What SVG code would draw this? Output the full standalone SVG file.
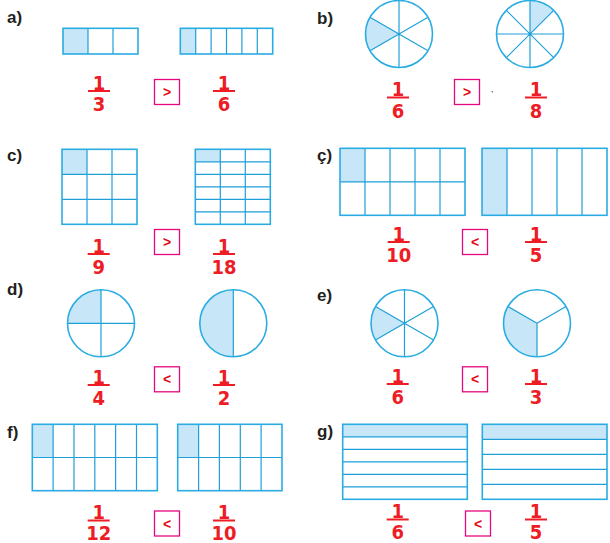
<svg xmlns="http://www.w3.org/2000/svg" width="610" height="543" viewBox="0 0 610 543">
<style>
.bg{fill:#fff}
.sh{fill:#c7e7f8}
.fr{fill:none;stroke:#2aace2;stroke-width:1.6}
.in{stroke:#1e9fd8;stroke-width:1.2;fill:none}
.lbl{font-family:"Liberation Sans",Arial,sans-serif;font-weight:bold;font-size:17px;fill:#231f20}
.num{font-family:"Liberation Sans Narrow","DejaVu Sans Condensed","Liberation Sans",sans-serif;font-weight:bold;font-size:20px;fill:#ee1c25;text-anchor:middle}
.bar{stroke:#ee1c25;stroke-width:2}
.box{fill:#fff;stroke:#e5087e;stroke-width:1.3}
.sym{font-family:"Liberation Sans",Arial,sans-serif;font-weight:bold;font-size:14px;fill:#e30613;text-anchor:middle}
</style>

<!-- a -->
<g id="panel-a">
<text class="lbl" x="7" y="23">a)</text>
<g id="a-left">
<rect class="bg" x="63" y="28.3" width="75" height="25.7"/>
<rect class="sh" x="63" y="28.3" width="25" height="25.7"/>
<path class="in" d="M88,28.3V54M113,28.3V54"/>
<rect class="fr" x="63" y="28.3" width="75" height="25.7"/>
</g>
<g id="a-right">
<rect class="bg" x="180.3" y="28.3" width="92.4" height="25.7"/>
<rect class="sh" x="180.3" y="28.3" width="15.4" height="25.7"/>
<path class="in" d="M195.7,28.3V54M211.1,28.3V54M226.5,28.3V54M241.9,28.3V54M257.3,28.3V54"/>
<rect class="fr" x="180.3" y="28.3" width="92.4" height="25.7"/>
</g>
<g id="a-frac1"><text class="num" x="99" y="89.5">1</text><line class="bar" x1="88" y1="91" x2="110" y2="91"/><text class="num" x="99" y="111">3</text></g>
<g id="a-cmp"><rect class="box" x="154.5" y="79.5" width="25" height="25"/><text class="sym" x="167" y="97">&gt;</text></g>
<g id="a-frac2"><text class="num" x="224" y="89.5">1</text><line class="bar" x1="213" y1="91" x2="235" y2="91"/><text class="num" x="224" y="111">6</text></g>
</g>

<!-- b -->
<g id="panel-b">
<text class="lbl" x="317" y="23.5">b)</text>
<g id="b-left">
<circle class="bg" cx="399" cy="34" r="33.5"/>
<path class="sh" d="M399,34L370,17.25A33.5,33.5 0 0 0 370,50.75Z"/>
<path class="in" d="M399,0.5V67.5M370,17.25L428,50.75M370,50.75L428,17.25"/>
<circle class="fr" cx="399" cy="34" r="33.5"/>
</g>
<g id="b-right">
<circle class="bg" cx="530" cy="34" r="33.5"/>
<path class="sh" d="M530,34L530,0.5A33.5,33.5 0 0 1 553.7,10.3Z"/>
<path class="in" d="M530,0.5V67.5M496.5,34H563.5M506.3,10.3L553.7,57.7M506.3,57.7L553.7,10.3"/>
<circle class="fr" cx="530" cy="34" r="33.5"/>
</g>
<g id="b-frac1"><text class="num" x="398" y="96">1</text><line class="bar" x1="387" y1="97.5" x2="409" y2="97.5"/><text class="num" x="398" y="117.5">6</text></g>
<g id="b-cmp"><rect class="box" x="454.5" y="79.5" width="25" height="25"/><text class="sym" x="467" y="97">&gt;</text></g>
<circle cx="492.3" cy="91.7" r="0.7" fill="#555"/>
<g id="b-frac2"><text class="num" x="536" y="96">1</text><line class="bar" x1="525" y1="97.5" x2="547" y2="97.5"/><text class="num" x="536" y="117.5">8</text></g>
</g>

<!-- c -->
<g id="panel-c">
<text class="lbl" x="7" y="161">c)</text>
<g id="c-left">
<rect class="bg" x="62" y="149.3" width="75" height="75"/>
<rect class="sh" x="62" y="149.3" width="25" height="25"/>
<path class="in" d="M87,149.3V224.3M112,149.3V224.3M62,174.3H137M62,199.3H137"/>
<rect class="fr" x="62" y="149.3" width="75" height="75"/>
</g>
<g id="c-right">
<rect class="bg" x="195.3" y="149.3" width="75" height="75"/>
<rect class="sh" x="195.3" y="149.3" width="25" height="12.5"/>
<path class="in" d="M220.3,149.3V224.3M245.3,149.3V224.3M195.3,161.8H270.3M195.3,174.3H270.3M195.3,186.8H270.3M195.3,199.3H270.3M195.3,211.8H270.3"/>
<rect class="fr" x="195.3" y="149.3" width="75" height="75"/>
</g>
<g id="c-frac1"><text class="num" x="98.7" y="252.5">1</text><line class="bar" x1="87.7" y1="254" x2="109.7" y2="254"/><text class="num" x="98.7" y="274">9</text></g>
<g id="c-cmp"><rect class="box" x="154.5" y="229.5" width="25" height="25"/><text class="sym" x="167" y="247">&gt;</text></g>
<g id="c-frac2"><text class="num" x="224" y="252.5">1</text><line class="bar" x1="213" y1="254" x2="235" y2="254"/><text class="num" x="224" y="274">18</text></g>
</g>

<!-- ç -->
<g id="panel-cc">
<text class="lbl" x="317" y="161">ç)</text>
<g id="cc-left">
<rect class="bg" x="340" y="148.3" width="125" height="67"/>
<rect class="sh" x="340" y="148.3" width="25" height="33.5"/>
<path class="in" d="M365,148.3V215.3M390,148.3V215.3M415,148.3V215.3M440,148.3V215.3M340,181.8H465"/>
<rect class="fr" x="340" y="148.3" width="125" height="67"/>
</g>
<g id="cc-right">
<rect class="bg" x="482" y="148.3" width="125" height="67"/>
<rect class="sh" x="482" y="148.3" width="25" height="67"/>
<path class="in" d="M507,148.3V215.3M532,148.3V215.3M557,148.3V215.3M582,148.3V215.3"/>
<rect class="fr" x="482" y="148.3" width="125" height="67"/>
</g>
<g id="cc-frac1"><text class="num" x="398.7" y="240.5">1</text><line class="bar" x1="387.7" y1="242" x2="409.7" y2="242"/><text class="num" x="398.7" y="262">10</text></g>
<g id="cc-cmp"><rect class="box" x="462.5" y="229.5" width="25" height="25"/><text class="sym" x="475" y="247">&lt;</text></g>
<g id="cc-frac2"><text class="num" x="536" y="240.5">1</text><line class="bar" x1="525" y1="242" x2="547" y2="242"/><text class="num" x="536" y="262">5</text></g>
</g>

<!-- d -->
<g id="panel-d">
<text class="lbl" x="7" y="295">d)</text>
<g id="d-left">
<circle class="bg" cx="101" cy="323.3" r="33.5"/>
<path class="sh" d="M101,323.3L67.5,323.3A33.5,33.5 0 0 1 101,289.8Z"/>
<path class="in" d="M101,289.8V356.8M67.5,323.3H134.5"/>
<circle class="fr" cx="101" cy="323.3" r="33.5"/>
</g>
<g id="d-right">
<circle class="bg" cx="233.3" cy="323.3" r="33.5"/>
<path class="sh" d="M233.3,289.8A33.5,33.5 0 0 0 233.3,356.8Z"/>
<path class="in" d="M233.3,289.8V356.8"/>
<circle class="fr" cx="233.3" cy="323.3" r="33.5"/>
</g>
<g id="d-frac1"><text class="num" x="98.7" y="383.5">1</text><line class="bar" x1="87.7" y1="385" x2="109.7" y2="385"/><text class="num" x="98.7" y="405">4</text></g>
<g id="d-cmp"><rect class="box" x="154.5" y="366.8" width="25" height="25"/><text class="sym" x="167" y="384.3">&lt;</text></g>
<g id="d-frac2"><text class="num" x="224" y="383.5">1</text><line class="bar" x1="213" y1="385" x2="235" y2="385"/><text class="num" x="224" y="405">2</text></g>
</g>

<!-- e -->
<g id="panel-e">
<text class="lbl" x="317" y="300.5">e)</text>
<g id="e-left">
<circle class="bg" cx="404.5" cy="323.3" r="33.5"/>
<path class="sh" d="M404.5,323.3L375.5,306.55A33.5,33.5 0 0 0 375.5,340.05Z"/>
<path class="in" d="M404.5,289.8V356.8M375.5,306.55L433.5,340.05M375.5,340.05L433.5,306.55"/>
<circle class="fr" cx="404.5" cy="323.3" r="33.5"/>
</g>
<g id="e-right">
<circle class="bg" cx="537" cy="323.3" r="33.5"/>
<path class="sh" d="M537,323.3L537,356.8A33.5,33.5 0 0 1 508,306.55Z"/>
<path class="in" d="M537,323.3V356.8M537,323.3L508,306.55M537,323.3L566,306.55"/>
<circle class="fr" cx="537" cy="323.3" r="33.5"/>
</g>
<g id="e-frac1"><text class="num" x="397.7" y="382.5">1</text><line class="bar" x1="386.7" y1="384" x2="408.7" y2="384"/><text class="num" x="397.7" y="404">6</text></g>
<g id="e-cmp"><rect class="box" x="462.5" y="366.8" width="25" height="25"/><text class="sym" x="475" y="384.3">&lt;</text></g>
<g id="e-frac2"><text class="num" x="536" y="382.5">1</text><line class="bar" x1="525" y1="384" x2="547" y2="384"/><text class="num" x="536" y="404">3</text></g>
</g>

<!-- f -->
<g id="panel-f">
<text class="lbl" x="7" y="438">f)</text>
<g id="f-left">
<rect class="bg" x="32.3" y="424.3" width="125" height="66.4"/>
<rect class="sh" x="32.3" y="424.3" width="20.8" height="33.2"/>
<path class="in" d="M53.1,424.3V490.7M74,424.3V490.7M94.8,424.3V490.7M115.6,424.3V490.7M136.5,424.3V490.7M32.3,457.5H157.3"/>
<rect class="fr" x="32.3" y="424.3" width="125" height="66.4"/>
</g>
<g id="f-right">
<rect class="bg" x="177.7" y="424.3" width="104.3" height="66.4"/>
<rect class="sh" x="177.7" y="424.3" width="20.9" height="33.2"/>
<path class="in" d="M198.6,424.3V490.7M219.4,424.3V490.7M240.3,424.3V490.7M261.1,424.3V490.7M177.7,457.5H282"/>
<rect class="fr" x="177.7" y="424.3" width="104.3" height="66.4"/>
</g>
<g id="f-frac1"><text class="num" x="98.7" y="519">1</text><line class="bar" x1="87.7" y1="520.5" x2="109.7" y2="520.5"/><text class="num" x="98.7" y="539.5">12</text></g>
<g id="f-cmp"><rect class="box" x="154.5" y="511" width="25" height="25"/><text class="sym" x="167" y="528.5">&lt;</text></g>
<g id="f-frac2"><text class="num" x="224" y="519">1</text><line class="bar" x1="213" y1="520.5" x2="235" y2="520.5"/><text class="num" x="224" y="539.5">10</text></g>
</g>

<!-- g -->
<g id="panel-g">
<text class="lbl" x="317" y="436.5">g)</text>
<g id="g-left">
<rect class="bg" x="342.7" y="424.3" width="124.6" height="75"/>
<rect class="sh" x="342.7" y="424.3" width="124.6" height="12.5"/>
<path class="in" d="M342.7,436.8H467.3M342.7,449.3H467.3M342.7,461.8H467.3M342.7,474.3H467.3M342.7,486.8H467.3"/>
<rect class="fr" x="342.7" y="424.3" width="124.6" height="75"/>
</g>
<g id="g-right">
<rect class="bg" x="482.3" y="424.3" width="124.7" height="75"/>
<rect class="sh" x="482.3" y="424.3" width="124.7" height="15"/>
<path class="in" d="M482.3,439.3H607M482.3,454.3H607M482.3,469.3H607M482.3,484.3H607"/>
<rect class="fr" x="482.3" y="424.3" width="124.7" height="75"/>
</g>
<g id="g-frac1"><text class="num" x="397.7" y="518">1</text><line class="bar" x1="386.7" y1="519.5" x2="408.7" y2="519.5"/><text class="num" x="397.7" y="539.3">6</text></g>
<g id="g-cmp"><rect class="box" x="465.5" y="511" width="25" height="25"/><text class="sym" x="478" y="528.5">&lt;</text></g>
<g id="g-frac2"><text class="num" x="536" y="518">1</text><line class="bar" x1="525" y1="519.5" x2="547" y2="519.5"/><text class="num" x="536" y="539.3">5</text></g>
</g>
</svg>
